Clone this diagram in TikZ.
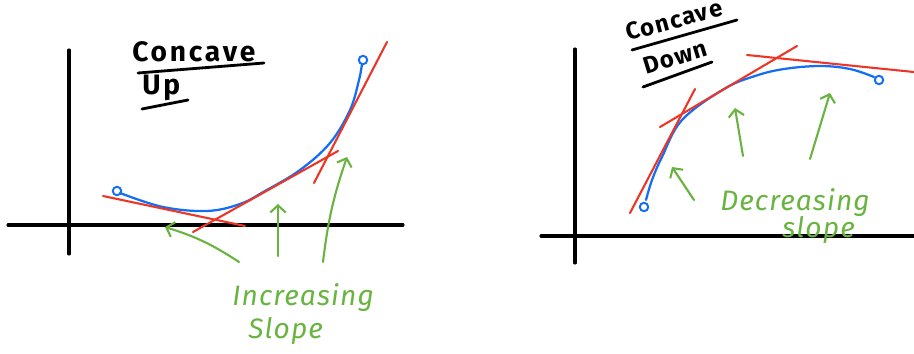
\documentclass[tikz,border=0pt]{standalone}
\usepackage{fontspec}
\setsansfont{Fira Sans}
\usetikzlibrary{arrows.meta}

\definecolor{curveblue}{RGB}{20,110,245}
\definecolor{tanred}{RGB}{235,55,40}
\definecolor{hintgreen}{RGB}{105,180,65}

\begin{document}
\begin{tikzpicture}[
  x=0.025cm, y=-0.025cm,
  font=\sffamily,
  axis/.style={line width=2.2pt, draw=black, line cap=round},
  graph/.style={line width=1.6pt, draw=curveblue, line cap=round},
  tangent/.style={line width=1.5pt, draw=tanred, line cap=round},
  hint/.style={line width=1.5pt, draw=hintgreen, line cap=round,
    -{Straight Barb[length=5pt, width=11pt, line width=1.5pt]}},
  title/.style={font=\sffamily\bfseries\fontsize{20}{22}\selectfont\addfontfeature{LetterSpace=10},
    text=black, inner sep=0pt, anchor=base west},
  slanted/.style={title, font=\sffamily\bfseries\fontsize{17}{19}\selectfont\addfontfeature{LetterSpace=6}},
  uline/.style={line width=2pt, draw=black, line cap=round},
  note/.style={font=\sffamily\itshape\fontsize{20}{22}\selectfont\addfontfeature{LetterSpace=4},
    text=hintgreen, inner sep=0pt, anchor=base west},
  dot/.style={circle, draw=curveblue, line width=1.4pt, minimum size=6pt, inner sep=0pt}
]
\useasboundingbox (0,0) rectangle (914,354);

% ---- concave up, left panel
\draw[axis] (69,50) -- (69,254);
\draw[axis] (8,225) -- (403,225);

\node[title] (upttl) at (132,62) {Concave};
\node[title] (upsub) at (142,95) {Up};
\draw[uline] (138,73) -- (264,63);
\draw[uline] (142,109) -- (188,100);

\node[dot] (upstart) at (117,191) {};
\node[dot] (upend)   at (363,60)  {};
\draw[graph] plot[smooth, tension=0.6] coordinates {(120,193) (163,207) (207,211) (240,204)
  (265,191) (300,170) (330,143) (350,110) (359,80) (362,64)};

\draw[tangent] (103,196) -- (245,226);
\draw[tangent] (193,232) -- (338,151);
\draw[tangent] (314,183) -- (387,42);

\node[note] (incr)  at (232,305) {Increasing};
\node[note] (slopl) at (248,338) {Slope};

\coordinate (ua1) at (239,262); \coordinate (ub1) at (165,227);
\coordinate (ua2) at (278,256); \coordinate (ub2) at (278,204);
\coordinate (ua3) at (323,262); \coordinate (ub3) at (347,157);
\draw[hint] (ua1) to[bend right=8] (ub1);
\draw[hint] (ua2) -- (ub2);
\draw[hint] (ua3) to[bend left=6] (ub3);

% ---- concave down, right panel
\draw[axis] (575,49) -- (575,263);
\draw[axis] (541,236) -- (914,236);

\node[slanted, rotate=15] (dnttl) at (628,41) {Concave};
\node[slanted, rotate=17] (dnsub) at (646,75) {Down};
\draw[uline] (632,50) -- (737,20);
\draw[uline] (643,87) -- (712,62);

\node[dot] (dnstart) at (644,207) {};
\node[dot] (dnend)   at (879,80)  {};
\draw[graph] plot[smooth, tension=0.6] coordinates {(646,200) (652,180) (662,157) (682,120)
  (724,89) (755,76) (784,69) (820,66) (850,69) (874,77)};

\draw[tangent] (630,213) -- (695,89);
\draw[tangent] (660,127) -- (797,46);
\draw[tangent] (747,55) -- (914,72);

\node[note] (decr)  at (720,211) {Decreasing};
\node[note] (slopr) at (782,238) {slope};

\coordinate (da1) at (694,200); \coordinate (db1) at (672,167);
\coordinate (da2) at (743,156); \coordinate (db2) at (735,108);
\coordinate (da3) at (810,159); \coordinate (db3) at (830,93);
\draw[hint] (da1) -- (db1);
\draw[hint] (da2) -- (db2);
\draw[hint] (da3) -- (db3);

\end{tikzpicture}
\end{document}
